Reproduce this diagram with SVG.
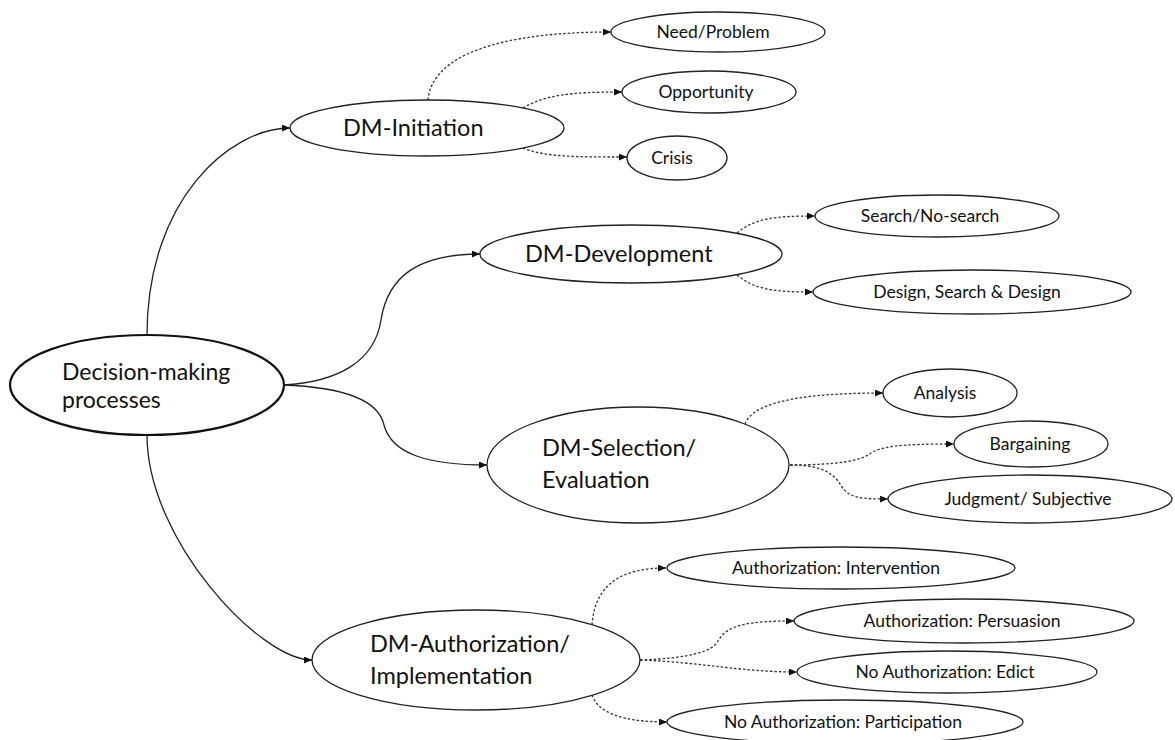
<svg xmlns="http://www.w3.org/2000/svg" width="1175" height="740" viewBox="0 0 1175 740">
<defs>
<marker id="arr" markerUnits="userSpaceOnUse" markerWidth="9" markerHeight="8" refX="8" refY="3.5" orient="auto"><path d="M0,0 L8,3.5 L0,7 z" fill="#111"/></marker>
<style>
.n{fill:#fff;stroke:#222;stroke-width:1.3}
.root{fill:#fff;stroke:#111;stroke-width:2.2}
.t1{font-family:Lato,"Liberation Sans",sans-serif;font-size:23.5px;fill:#111}
.t0{font-family:Lato,"Liberation Sans",sans-serif;font-size:23px;fill:#111}
.t2{font-family:Lato,"Liberation Sans",sans-serif;font-size:17.5px;fill:#111;text-anchor:middle}
.s{fill:none;stroke:#222;stroke-width:1.3;marker-end:url(#arr)}
.d{fill:none;stroke:#333;stroke-width:1.3;stroke-dasharray:2.5,2;marker-end:url(#arr)}
</style>
</defs>
<rect width="1175" height="740" fill="#fff"/>
<g id="connectors">
<path class="s" d="M147,335 C147,200 230,128 290,128"/>
<path class="s" d="M283,385 C340,382 375,360 381,320 C388,275 420,254 480,254"/>
<path class="s" d="M283,385 C340,387 378,398 384,425 C392,455 430,465 487,465"/>
<path class="s" d="M147,435 C147,540 260,660 312,660"/>
<path class="d" d="M428,100 C432,55 500,32 611,32"/>
<path class="d" d="M523,108 C545,95 570,92 622,92"/>
<path class="d" d="M523,148 C545,157 575,157 627,157"/>
<path class="d" d="M737,233 C755,218 775,216 815,216"/>
<path class="d" d="M737,275 C755,290 775,292 813,292"/>
<path class="d" d="M745,424 C752,405 790,393 883,393"/>
<path class="d" d="M790,465 C840,465 860,460 868,455 C880,446 900,444 954,444"/>
<path class="d" d="M790,465 C825,465 835,475 842,487 C850,498 860,499 888,499"/>
<path class="d" d="M592,625 C595,585 620,568 666,568"/>
<path class="d" d="M640,660 C690,658 712,652 718,641 C728,624 750,621 794,621"/>
<path class="d" d="M640,660 C700,662 740,672 797,672"/>
<path class="d" d="M592,695 C598,712 620,722 667,722"/>
</g>
<g id="root"><ellipse class="root" cx="147" cy="385" rx="137" ry="50"/><text class="t0" x="62" y="380">Decision-making</text><text class="t0" x="62" y="408">processes</text></g>
<g id="dm-initiation"><ellipse class="n" cx="427" cy="128" rx="137" ry="28"/><text class="t1" x="343" y="136">DM-Initiation</text></g>
<g id="need-problem"><ellipse class="n" cx="718" cy="32" rx="107" ry="20"/><text class="t2" x="713" y="38">Need/Problem</text></g>
<g id="opportunity"><ellipse class="n" cx="709" cy="92" rx="87" ry="21"/><text class="t2" x="706" y="98">Opportunity</text></g>
<g id="crisis"><ellipse class="n" cx="677" cy="158" rx="50" ry="22"/><text class="t2" x="672" y="164">Crisis</text></g>
<g id="dm-development"><ellipse class="n" cx="631" cy="254" rx="151" ry="29"/><text class="t1" x="525" y="262">DM-Development</text></g>
<g id="search"><ellipse class="n" cx="937" cy="216" rx="122" ry="21"/><text class="t2" x="930" y="222">Search/No-search</text></g>
<g id="design"><ellipse class="n" cx="972" cy="292" rx="159" ry="22"/><text class="t2" x="967" y="298">Design, Search &amp; Design</text></g>
<g id="dm-selection"><ellipse class="n" cx="638" cy="465" rx="151" ry="58"/><text class="t1" x="542" y="456">DM-Selection/</text><text class="t1" x="542" y="488">Evaluation</text></g>
<g id="analysis"><ellipse class="n" cx="950" cy="393" rx="67" ry="24"/><text class="t2" x="945" y="399">Analysis</text></g>
<g id="bargaining"><ellipse class="n" cx="1031" cy="444" rx="77" ry="23"/><text class="t2" x="1030" y="450">Bargaining</text></g>
<g id="judgment"><ellipse class="n" cx="1030" cy="499" rx="142" ry="24"/><text class="t2" x="1028" y="505">Judgment/ Subjective</text></g>
<g id="dm-authorization"><ellipse class="n" cx="476" cy="660" rx="164" ry="50"/><text class="t1" x="370" y="652">DM-Authorization/</text><text class="t1" x="370" y="684">Implementation</text></g>
<g id="intervention"><ellipse class="n" cx="841" cy="568" rx="174" ry="21"/><text class="t2" x="836" y="574">Authorization: Intervention</text></g>
<g id="persuasion"><ellipse class="n" cx="964" cy="621" rx="170" ry="22"/><text class="t2" x="962" y="627">Authorization: Persuasion</text></g>
<g id="edict"><ellipse class="n" cx="947" cy="672" rx="150" ry="21"/><text class="t2" x="945" y="678">No Authorization: Edict</text></g>
<g id="participation"><ellipse class="n" cx="845" cy="722" rx="178" ry="22"/><text class="t2" x="843" y="728">No Authorization: Participation</text></g>
</svg>
